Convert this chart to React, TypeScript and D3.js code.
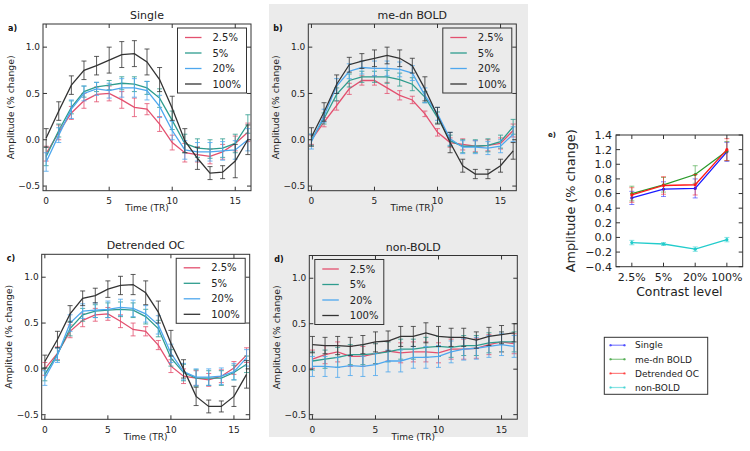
import React from 'react';
import * as d3 from 'd3';

// ---------------- DATA ----------------
const TIME = [0, 1, 2, 3, 4, 5, 6, 7, 8, 9, 10, 11, 12, 13, 14, 15, 16];
const LEVELS = ['2.5%', '5%', '20%', '100%'];
const X_TICKS = [0, 5, 10, 15];
const Y_TICKS = [-0.5, 0.0, 0.5, 1.0];
const E_Y_TICKS = [-0.4, -0.2, 0.0, 0.2, 0.4, 0.6, 0.8, 1.0, 1.2, 1.4];

// a) Single
const singleC25 = [-0.15, 0.08, 0.29, 0.42, 0.49, 0.50, 0.43, 0.35, 0.33, 0.17, -0.03, -0.14, -0.16, -0.18, -0.13, -0.04, 0.08];
const singleC5 = [-0.18, 0.10, 0.35, 0.52, 0.57, 0.59, 0.61, 0.60, 0.56, 0.45, 0.21, -0.04, -0.09, -0.10, -0.09, -0.04, 0.17];
const singleC20 = [-0.24, 0.05, 0.33, 0.50, 0.55, 0.53, 0.56, 0.56, 0.53, 0.36, 0.10, -0.11, -0.13, -0.13, -0.12, -0.11, 0.00];
const singleC100 = [0.02, 0.31, 0.59, 0.75, 0.80, 0.86, 0.92, 0.93, 0.84, 0.65, 0.34, -0.01, -0.20, -0.36, -0.35, -0.23, 0.00];
const singleE25 = [0.08, 0.08, 0.07, 0.08, 0.08, 0.08, 0.09, 0.10, 0.06, 0.08, 0.08, 0.10, 0.08, 0.08, 0.08, 0.08, 0.10];
const singleE5 = [0.10, 0.07, 0.07, 0.06, 0.05, 0.05, 0.07, 0.08, 0.07, 0.10, 0.10, 0.10, 0.10, 0.10, 0.10, 0.10, 0.10];
const singleE20 = [0.10, 0.08, 0.10, 0.08, 0.07, 0.08, 0.10, 0.10, 0.10, 0.12, 0.10, 0.10, 0.10, 0.10, 0.10, 0.10, 0.12];
const singleE100 = [0.10, 0.10, 0.10, 0.10, 0.10, 0.14, 0.14, 0.14, 0.14, 0.13, 0.13, 0.13, 0.12, 0.07, 0.07, 0.18, 0.16];

// b) me-dn BOLD
const mednC25 = [0.00, 0.19, 0.37, 0.55, 0.64, 0.64, 0.56, 0.48, 0.43, 0.28, 0.08, -0.03, -0.05, -0.07, -0.06, -0.04, 0.10];
const mednC5 = [0.00, 0.23, 0.49, 0.64, 0.68, 0.68, 0.68, 0.65, 0.60, 0.46, 0.24, -0.01, -0.07, -0.07, -0.06, -0.02, 0.14];
const mednC20 = [-0.02, 0.26, 0.58, 0.74, 0.78, 0.77, 0.77, 0.76, 0.72, 0.48, 0.28, 0.01, -0.08, -0.08, -0.09, -0.07, 0.06];
const mednC100 = [0.03, 0.30, 0.60, 0.81, 0.85, 0.88, 0.91, 0.88, 0.80, 0.55, 0.26, -0.03, -0.28, -0.37, -0.37, -0.28, -0.12];
const mednE25 = [0.05, 0.05, 0.05, 0.06, 0.05, 0.05, 0.06, 0.05, 0.04, 0.03, 0.04, 0.05, 0.06, 0.06, 0.06, 0.06, 0.07];
const mednE5 = [0.06, 0.06, 0.07, 0.07, 0.06, 0.06, 0.07, 0.07, 0.07, 0.06, 0.06, 0.06, 0.07, 0.07, 0.07, 0.07, 0.08];
const mednE20 = [0.08, 0.07, 0.08, 0.08, 0.07, 0.08, 0.08, 0.08, 0.08, 0.08, 0.07, 0.07, 0.07, 0.07, 0.07, 0.07, 0.08];
const mednE100 = [0.10, 0.10, 0.10, 0.08, 0.08, 0.09, 0.09, 0.09, 0.08, 0.13, 0.09, 0.11, 0.07, 0.05, 0.05, 0.07, 0.09];

// c) Detrended OC
const ocC25 = [0.00, 0.17, 0.41, 0.53, 0.59, 0.60, 0.52, 0.43, 0.41, 0.26, 0.03, -0.08, -0.10, -0.12, -0.08, 0.01, 0.15];
const ocC5 = [-0.06, 0.16, 0.44, 0.59, 0.63, 0.64, 0.65, 0.64, 0.57, 0.44, 0.12, -0.04, -0.10, -0.10, -0.10, -0.04, 0.05];
const ocC20 = [-0.10, 0.15, 0.50, 0.63, 0.64, 0.65, 0.67, 0.66, 0.60, 0.48, 0.17, -0.03, -0.09, -0.09, -0.08, -0.03, 0.12];
const ocC100 = [0.08, 0.32, 0.60, 0.77, 0.80, 0.87, 0.91, 0.92, 0.83, 0.62, 0.28, 0.00, -0.30, -0.41, -0.41, -0.30, -0.06];
const ocE25 = [0.07, 0.07, 0.07, 0.07, 0.07, 0.07, 0.07, 0.07, 0.05, 0.05, 0.07, 0.08, 0.08, 0.07, 0.07, 0.07, 0.08];
const ocE5 = [0.07, 0.07, 0.08, 0.07, 0.07, 0.08, 0.08, 0.08, 0.08, 0.09, 0.09, 0.09, 0.09, 0.08, 0.08, 0.08, 0.09];
const ocE20 = [0.08, 0.08, 0.09, 0.08, 0.08, 0.09, 0.09, 0.09, 0.09, 0.10, 0.10, 0.09, 0.09, 0.09, 0.09, 0.09, 0.09];
const ocE100 = [0.07, 0.09, 0.09, 0.08, 0.08, 0.09, 0.10, 0.11, 0.13, 0.12, 0.14, 0.10, 0.10, 0.07, 0.06, 0.11, 0.15];

// d) non-BOLD
const nbC25 = [0.11, 0.16, 0.19, 0.14, 0.14, 0.17, 0.20, 0.18, 0.19, 0.19, 0.18, 0.22, 0.22, 0.23, 0.27, 0.30, 0.28];
const nbC5 = [0.09, 0.11, 0.13, 0.16, 0.16, 0.17, 0.19, 0.22, 0.22, 0.24, 0.25, 0.24, 0.26, 0.26, 0.29, 0.30, 0.30];
const nbC20 = [0.03, 0.03, 0.02, 0.04, 0.03, 0.05, 0.09, 0.09, 0.13, 0.13, 0.14, 0.19, 0.22, 0.23, 0.25, 0.27, 0.25];
const nbC100 = [0.27, 0.26, 0.26, 0.25, 0.27, 0.30, 0.31, 0.36, 0.36, 0.40, 0.36, 0.35, 0.35, 0.32, 0.36, 0.38, 0.40];
const nbE25 = [0.10, 0.10, 0.11, 0.11, 0.11, 0.11, 0.11, 0.11, 0.11, 0.11, 0.11, 0.11, 0.11, 0.11, 0.11, 0.11, 0.11];
const nbE5 = [0.10, 0.10, 0.11, 0.11, 0.11, 0.11, 0.11, 0.11, 0.11, 0.11, 0.11, 0.11, 0.11, 0.11, 0.11, 0.11, 0.11];
const nbE20 = [0.11, 0.11, 0.11, 0.11, 0.11, 0.12, 0.12, 0.12, 0.12, 0.12, 0.12, 0.12, 0.12, 0.12, 0.12, 0.12, 0.12];
const nbE100 = [0.09, 0.09, 0.10, 0.10, 0.10, 0.11, 0.11, 0.11, 0.11, 0.11, 0.11, 0.10, 0.10, 0.09, 0.10, 0.10, 0.10];

// e) summary
const E_SERIES = ['Single', 'me-dn BOLD', 'Detrended OC', 'non-BOLD'];
const eSingle = [0.54, 0.66, 0.67, 1.17];
const eSingleErr = [0.09, 0.10, 0.13, 0.13];
const eMedn = [0.60, 0.72, 0.86, 1.18];
const eMednErr = [0.10, 0.10, 0.12, 0.13];
const eOC = [0.58, 0.71, 0.72, 1.20];
const eOCErr = [0.10, 0.12, 0.14, 0.15];
const eNonBold = [-0.07, -0.09, -0.16, -0.03];
const eNonBoldErr = [0.03, 0.02, 0.03, 0.03];

// ---------------- STYLE ----------------
const LEVEL_COLORS = ['#e3506f', '#2e9c8e', '#4ea7ee', '#333333'];
const E_COLORS = ['#1a1aff', '#2a9a2a', '#ff1a1a', '#22cccc'];
const FONT = "'DejaVu Sans', 'Bitstream Vera Sans', sans-serif";
const TXT = '#222';
const GRAY = '#ebebeb';

type Series = { values: number[]; errs: number[] };
type PanelDef = {
  tag: string; title: string; left: number; top: number; width: number; height: number;
  legend: 'tr' | 'tl'; series: Series[];
};

const PANELS: PanelDef[] = [
  { tag: 'a)', title: 'Single', left: 43, top: 24, width: 208, height: 166.7, legend: 'tr',
    series: [
      { values: singleC25, errs: singleE25 }, { values: singleC5, errs: singleE5 },
      { values: singleC20, errs: singleE20 }, { values: singleC100, errs: singleE100 }] },
  { tag: 'b)', title: 'me-dn BOLD', left: 308.3, top: 24, width: 208, height: 166.7, legend: 'tr',
    series: [
      { values: mednC25, errs: mednE25 }, { values: mednC5, errs: mednE5 },
      { values: mednC20, errs: mednE20 }, { values: mednC100, errs: mednE100 }] },
  { tag: 'c)', title: 'Detrended OC', left: 41.7, top: 254.3, width: 208, height: 165, legend: 'tr',
    series: [
      { values: ocC25, errs: ocE25 }, { values: ocC5, errs: ocE5 },
      { values: ocC20, errs: ocE20 }, { values: ocC100, errs: ocE100 }] },
  { tag: 'd)', title: 'non-BOLD', left: 309.3, top: 255.5, width: 208, height: 163.7, legend: 'tl',
    series: [
      { values: nbC25, errs: nbE25 }, { values: nbC5, errs: nbE5 },
      { values: nbC20, errs: nbE20 }, { values: nbC100, errs: nbE100 }] },
];

const fmt = (v: number) => (v < 0 ? '\u2212' : '') + Math.abs(v).toFixed(1);

function TimePanel({ p }: { p: PanelDef }) {
  const x = d3.scaleLinear().domain([-0.25, 16.25]).range([p.left, p.left + p.width]);
  const y = d3.scaleLinear().domain([-0.55, 1.25]).range([p.top + p.height, p.top]);
  const bottom = p.top + p.height;
  const right = p.left + p.width;
  const line = d3.line<number>().x((_, i) => x(TIME[i])).y((d) => y(d));
  const tl = 4;
  const lgW = 69, lgH = 65;
  const lgX = p.legend === 'tr' ? right - 4.5 - lgW : p.left + 5.5;
  const lgY = p.top + 4;
  return (
    <g>
      {p.series.map((s, si) => (
        <g key={si}>
          {s.values.map((v, i) => {
            const cx = x(TIME[i]);
            const y1 = y(v + s.errs[i]);
            const y2 = y(v - s.errs[i]);
            return (
              <g key={i} stroke={LEVEL_COLORS[si]} strokeOpacity={0.8} strokeWidth={1}>
                <line x1={cx} x2={cx} y1={y1} y2={y2} />
                <line x1={cx - 2.5} x2={cx + 2.5} y1={y1} y2={y1} />
                <line x1={cx - 2.5} x2={cx + 2.5} y1={y2} y2={y2} />
              </g>
            );
          })}
          <path d={line(s.values) || ''} fill="none" stroke={LEVEL_COLORS[si]} strokeWidth={1.3} />
        </g>
      ))}
      <rect x={p.left} y={p.top} width={p.width} height={p.height} fill="none" stroke="#333" strokeWidth={1} />
      {X_TICKS.map((t) => (
        <g key={'x' + t}>
          <line x1={x(t)} x2={x(t)} y1={bottom} y2={bottom - tl} stroke="#333" />
          <line x1={x(t)} x2={x(t)} y1={p.top} y2={p.top + tl} stroke="#333" />
          <text x={x(t)} y={bottom + 13.5} fontSize={9} textAnchor="middle" fill={TXT}>{t}</text>
        </g>
      ))}
      {Y_TICKS.map((t) => (
        <g key={'y' + t}>
          <line x1={p.left} x2={p.left + tl} y1={y(t)} y2={y(t)} stroke="#333" />
          <line x1={right} x2={right - tl} y1={y(t)} y2={y(t)} stroke="#333" />
          <text x={p.left - 3} y={y(t) + 3.2} fontSize={9} textAnchor="end" fill={TXT}>{fmt(t)}</text>
        </g>
      ))}
      <text x={(p.left + right) / 2} y={p.top - 5} fontSize={11} textAnchor="middle" fill={TXT}>{p.title}</text>
      <text x={(p.left + right) / 2} y={bottom + 20.5} fontSize={9} textAnchor="middle" fill={TXT}>Time (TR)</text>
      <text transform={`translate(${p.left - 29.5},${(p.top + bottom) / 2}) rotate(-90)`} fontSize={9.3} textAnchor="middle" fill={TXT}>Amplitude (% change)</text>
      <text x={p.left - 35} y={p.top + 6.5} fontSize={8} fontWeight="bold" fill="#111">{p.tag}</text>
      <g>
        <rect x={lgX} y={lgY} width={lgW} height={lgH} fill="none" stroke="#333" strokeWidth={1} />
        {LEVELS.map((l, i) => {
          const ly = lgY + 9.5 + i * 15.5;
          return (
            <g key={l}>
              <line x1={lgX + 7.5} x2={lgX + 24} y1={ly} y2={ly} stroke={LEVEL_COLORS[i]} strokeWidth={1.3} />
              <text x={lgX + 35} y={ly + 3.6} fontSize={10} fill={TXT}>{l}</text>
            </g>
          );
        })}
      </g>
    </g>
  );
}

function SummaryPanel() {
  const left = 616, right = 742.7, top = 135, bottom = 266.7;
  const x = d3.scaleLinear().domain([-0.5, 3.5]).range([left, right]);
  const y = d3.scaleLinear().domain([-0.4, 1.4]).range([bottom, top]);
  const data = [
    { v: eSingle, e: eSingleErr }, { v: eMedn, e: eMednErr },
    { v: eOC, e: eOCErr }, { v: eNonBold, e: eNonBoldErr }];
  const line = d3.line<number>().x((_, i) => x(i)).y((d) => y(d));
  const tl = 4;
  return (
    <g>
      {data.map((s, si) => (
        <g key={si}>
          {s.v.map((v, i) => {
            const cx = x(i);
            const y1 = y(v + s.e[i]);
            const y2 = y(v - s.e[i]);
            return (
              <g key={i} stroke={E_COLORS[si]} strokeOpacity={0.55} strokeWidth={1}>
                <line x1={cx} x2={cx} y1={y1} y2={y2} />
                <line x1={cx - 2.5} x2={cx + 2.5} y1={y1} y2={y1} />
                <line x1={cx - 2.5} x2={cx + 2.5} y1={y2} y2={y2} />
              </g>
            );
          })}
          <path d={line(s.v) || ''} fill="none" stroke={E_COLORS[si]} strokeWidth={1.3} />
          {s.v.map((v, i) => (
            <circle key={'m' + i} cx={x(i)} cy={y(v)} r={1.6} fill={E_COLORS[si]} />
          ))}
        </g>
      ))}
      <rect x={left} y={top} width={right - left} height={bottom - top} fill="none" stroke="#333" strokeWidth={1} />
      {LEVELS.map((l, i) => (
        <g key={l}>
          <line x1={x(i)} x2={x(i)} y1={bottom} y2={bottom - tl} stroke="#333" />
          <line x1={x(i)} x2={x(i)} y1={top} y2={top + tl} stroke="#333" />
          <text x={x(i)} y={bottom + 14} fontSize={11} textAnchor="middle" fill={TXT}>{l}</text>
        </g>
      ))}
      {E_Y_TICKS.map((t) => (
        <g key={'ey' + t}>
          <line x1={left} x2={left + tl} y1={y(t)} y2={y(t)} stroke="#333" />
          <line x1={right} x2={right - tl} y1={y(t)} y2={y(t)} stroke="#333" />
          <text x={left - 4} y={y(t) + 3.9} fontSize={11} textAnchor="end" fill={TXT}>{fmt(t)}</text>
        </g>
      ))}
      <text x={(left + right) / 2} y={296} fontSize={12.4} textAnchor="middle" fill={TXT}>Contrast level</text>
      <text transform={`translate(575,${(top + bottom) / 2}) rotate(-90)`} fontSize={12.8} textAnchor="middle" fill={TXT}>Amplitude (% change)</text>
      <text x={548} y={136.5} fontSize={7} fontWeight="bold" fill="#111">e)</text>
      <g>
        <rect x={604.3} y={337.3} width={103.4} height={57} fill="#fff" stroke="#333" strokeWidth={1} />
        {E_SERIES.map((n, i) => {
          const ly = 345.2 + i * 14.1;
          return (
            <g key={n}>
              <line x1={610} x2={625} y1={ly} y2={ly} stroke={E_COLORS[i]} strokeOpacity={0.55} strokeWidth={1.2} />
              <circle cx={610.5} cy={ly} r={1.2} fill={E_COLORS[i]} fillOpacity={0.6} />
              <circle cx={624.5} cy={ly} r={1.2} fill={E_COLORS[i]} fillOpacity={0.6} />
              <text x={635} y={ly + 3.2} fontSize={9} fill={TXT}>{n}</text>
            </g>
          );
        })}
      </g>
    </g>
  );
}

export default function App() {
  return (
    <svg width={750} height={451} viewBox="0 0 750 451"
      style={{ position: 'absolute', left: 0, top: 0, background: '#fff', fontFamily: FONT }}>
      <rect x={0} y={0} width={750} height={451} fill="#fff" />
      <rect x={269} y={4} width={259} height={433} fill={GRAY} />
      {PANELS.map((p) => <TimePanel key={p.tag} p={p} />)}
      <SummaryPanel />
    </svg>
  );
}
